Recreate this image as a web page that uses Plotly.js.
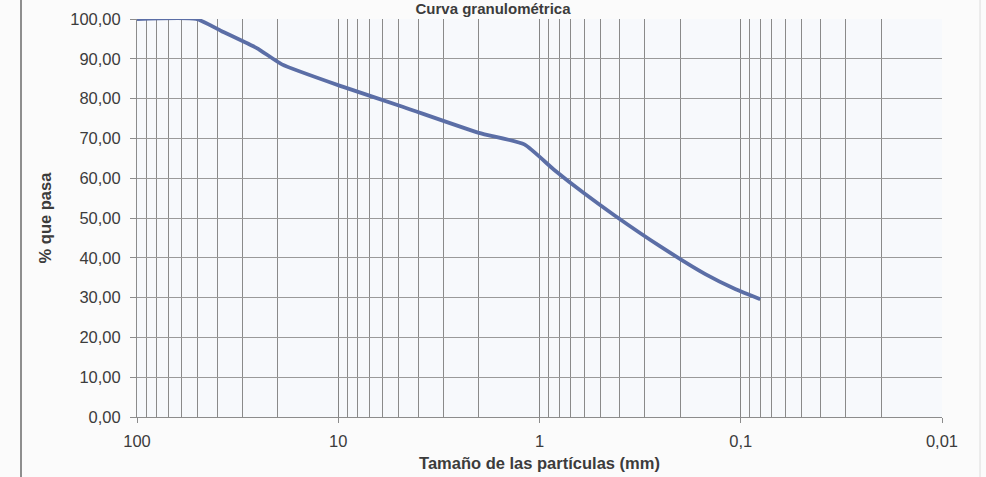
<!DOCTYPE html>
<html>
<head>
<meta charset="utf-8">
<script src="https://cdn.plot.ly/plotly-3.0.1.min.js"></script>
<style>html,body{margin:0;padding:0;background:#fbfbfb;}#chart{width:986px;height:477px;}</style>
</head>
<body>
<div id="chart"></div>
<script>
// Particle size (mm) and percent passing
const sizes   = [100, 50.8, 38.1, 25.4, 19.05, 9.525, 4.75, 2.0, 1.19, 0.85, 0.6, 0.425, 0.25, 0.15, 0.106, 0.08];
const passing = [100, 100, 97.0, 92.7, 88.6, 83.0, 77.9, 71.4, 68.5, 62.2, 56.2, 50.7, 42.8, 35.9, 32.1, 29.6];
const xTickVals = [100, 10, 1, 0.1, 0.01];
const xTickText = ['100', '10', '1', '0,1', '0,01'];
const yTickVals = [0, 10, 20, 30, 40, 50, 60, 70, 80, 90, 100];

const W = 986, H = 477;
const m = {l: 137, r: 44, t: 19, b: 60};
const pw = W - m.l - m.r;
const px = v => (v - m.l) / pw;

const trace = {
  x: sizes, y: passing, type: 'scatter', mode: 'lines',
  line: {color: '#5b6ea6', width: 3.8, shape: 'spline', smoothing: 0.5},
  hoverinfo: 'x+y'
};

const txt = '#3c3c3c';
const layout = {
  width: W, height: H,
  margin: m,
  separators: ',.',
  paper_bgcolor: '#fbfbfb',
  plot_bgcolor: '#f7f9fc',
  font: {family: 'Liberation Sans, Arial, sans-serif', size: 16, color: txt},
  title: {text: '<b>Curva granulométrica</b>', x: 0.5, xref: 'container', xanchor: 'center',
          y: 0.992, yref: 'container', yanchor: 'top', pad: {t: 0, b: 0},
          font: {size: 15, color: txt}},
  showlegend: false,
  xaxis: {
    type: 'log', autorange: false, range: [2, -2],
    tickvals: xTickVals, ticktext: xTickText,
    showgrid: true, gridcolor: '#858585', gridwidth: 1,
    minor: {dtick: 'D1', showgrid: true, gridcolor: '#8a8a8a', gridwidth: 1, ticks: ''},
    ticks: 'outside', ticklen: 5, tickcolor: '#8c8c8c',
    showline: true, linecolor: '#8c8c8c', linewidth: 1,
    zeroline: false, ticklabelstandoff: 4,
    tickfont: {size: 16.5, color: txt},
    title: {text: '<b>Tamaño de las partículas (mm)</b>', font: {size: 16.5, color: txt}, standoff: 8}
  },
  yaxis: {
    range: [0, 100], autorange: false,
    tickvals: yTickVals, tickformat: '.2f',
    showgrid: true, gridcolor: '#9a9a9a', gridwidth: 1,
    ticks: 'outside', ticklen: 6, tickcolor: '#8c8c8c',
    showline: true, linecolor: '#8c8c8c', linewidth: 1,
    zeroline: false, ticklabelstandoff: 6,
    tickfont: {size: 16.5, color: txt},
    title: {text: '<b>% que pasa</b>', font: {size: 16.5, color: txt}, standoff: 14}
  },
  shapes: [
    {type: 'line', xref: 'paper', yref: 'paper', x0: px(21), x1: px(21), y0: -1, y1: 1.1,
     line: {color: '#6a6a6a', width: 1.5}},
    {type: 'line', xref: 'paper', yref: 'paper', x0: px(980), x1: px(980), y0: -1, y1: 1.1,
     line: {color: '#dcdcdc', width: 1}}
  ]
};

Plotly.newPlot('chart', [trace], layout, {displayModeBar: false, staticPlot: true});
</script>
</body>
</html>
